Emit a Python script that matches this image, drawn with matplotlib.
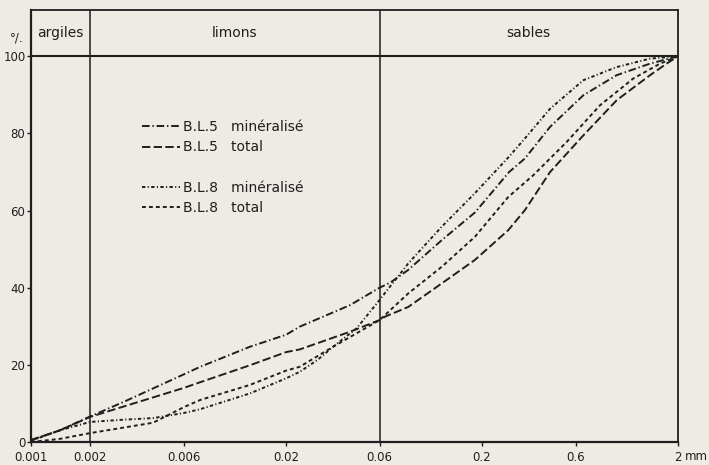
# granulometrie.py
# Cumulative grain-size curves for samples B.L.5 and B.L.8 (mineralised vs total fraction).

import matplotlib
matplotlib.use("Agg")
import matplotlib.pyplot as plt
from matplotlib.lines import Line2D
from matplotlib.ticker import NullLocator

# Grain diameters (mm) and cumulative percentages for each curve.
bl5_min_d = [0.001, 0.0014, 0.002, 0.003, 0.006, 0.0073, 0.0131, 0.02, 0.0235, 0.0425,
             0.06, 0.068, 0.084, 0.1245, 0.184, 0.275, 0.331, 0.445, 0.658, 0.973, 1.44, 2.0]
bl5_min_p = [0.5, 3.0, 6.6, 10.5, 17.5, 19.5, 24.7, 27.8, 29.9, 35.5,
             40.0, 41.3, 44.6, 52.3, 59.5, 70.0, 73.5, 81.7, 89.9, 95.1, 98.1, 100.0]

bl5_tot_d = [0.001, 0.0014, 0.002, 0.006, 0.0073, 0.0131, 0.02, 0.0235, 0.0425, 0.06,
             0.064, 0.084, 0.1245, 0.184, 0.272, 0.331, 0.445, 0.658, 0.973, 1.44, 1.75, 2.0]
bl5_tot_p = [0.5, 3.0, 6.5, 14.0, 15.5, 19.9, 23.3, 24.0, 28.6, 31.6,
             32.5, 35.0, 41.1, 47.2, 54.9, 60.1, 70.0, 79.5, 88.6, 95.1, 98.1, 100.0]

bl8_min_d = [0.001, 0.0014, 0.002, 0.003, 0.0042, 0.006, 0.0073, 0.0131, 0.02, 0.0235,
             0.029, 0.0348, 0.0459, 0.0589, 0.0841, 0.1245, 0.184, 0.275, 0.331, 0.445,
             0.658, 0.973, 1.44, 2.0]
bl8_min_p = [0.3, 3.0, 5.2, 5.8, 6.2, 7.5, 8.5, 12.6, 16.5, 18.2,
             21.3, 24.7, 29.5, 36.3, 46.3, 55.8, 64.5, 74.0, 78.7, 86.4,
             93.8, 97.2, 99.4, 100.0]

bl8_tot_d = [0.001, 0.0014, 0.002, 0.0042, 0.006, 0.0073, 0.0131, 0.02, 0.0235, 0.0348,
             0.06, 0.084, 0.1245, 0.184, 0.272, 0.366, 0.541, 0.8, 1.18, 1.62, 2.0]
bl8_tot_p = [0.0, 0.8, 2.3, 5.0, 9.0, 10.9, 14.8, 18.5, 19.5, 24.7,
             31.6, 38.5, 45.4, 53.2, 63.5, 69.2, 77.8, 87.3, 94.2, 98.1, 100.0]

# Axis ticks and labels.
x_ticks = [0.001, 0.002, 0.006, 0.02, 0.06, 0.2, 0.6, 2.0]
x_labels = ["0.001", "0.002", "0.006", "0.02", "0.06", "0.2", "0.6", "2"]
y_ticks = [0, 20, 40, 60, 80, 100]

# Texture classes and their diameter limits.
classes = ["argiles", "limons", "sables"]
class_limits = [0.001, 0.002, 0.06, 2.0]

# Legend labels.
labels = ["B.L.5   minéralisé", "B.L.5   total", "B.L.8   minéralisé", "B.L.8   total"]

paper = "#eeebe4"
ink = "#1f1f1f"

plt.rcParams["font.family"] = "DejaVu Sans"
plt.rcParams["lines.scale_dashes"] = False

fig = plt.figure(figsize=(7.09, 4.65), dpi=100, facecolor=paper)
ax = fig.add_axes([31 / 709, 23 / 465, 647 / 709, 432 / 465], facecolor=paper)

ax.set_xscale("log")
ax.set_xlim(0.001, 2.0)
ax.set_ylim(0, 112)

# Class header band and vertical class limits.
ax.axhline(100, color=ink, lw=1.5)
for lim in class_limits[1:-1]:
    ax.axvline(lim, color=ink, lw=1.1)
for i, name in enumerate(classes):
    lo, hi = class_limits[i], class_limits[i + 1]
    ax.text((lo * hi) ** 0.5, 106, name, ha="center", va="center", fontsize=10, color=ink)

# The four cumulative curves.
lw = 1.4
ax.plot(bl5_min_d, bl5_min_p, color=ink, lw=lw, dashes=(5.5, 2.0, 1.0, 2.0), label=labels[0])
ax.plot(bl5_tot_d, bl5_tot_p, color=ink, lw=lw, dashes=(6.0, 2.4), label=labels[1])
ax.plot(bl8_min_d, bl8_min_p, color=ink, lw=lw, dashes=(2.4, 1.7, 0.8, 1.7), label=labels[2])
ax.plot(bl8_tot_d, bl8_tot_p, color=ink, lw=lw, dashes=(2.8, 2.2), label=labels[3])

# Legend with a blank row between the two samples.
handles, hl = ax.get_legend_handles_labels()
blank = Line2D([], [], color="none")
ax.legend(handles[:2] + [blank] + handles[2:], hl[:2] + [" "] + hl[2:],
          loc="upper left", bbox_to_anchor=(0.172, 0.745), frameon=False,
          borderpad=0, borderaxespad=0, handlelength=2.7, handletextpad=0.25,
          labelspacing=0.45, fontsize=10, labelcolor=ink)

# Ticks and frame.
ax.set_xticks(x_ticks)
ax.set_xticklabels(x_labels)
ax.xaxis.set_minor_locator(NullLocator())
ax.set_yticks(y_ticks)
ax.tick_params(axis="both", direction="out", length=3, width=1.0, color=ink,
               labelsize=8.5, labelcolor=ink)
ax.tick_params(axis="x", pad=3.5)
ax.tick_params(axis="y", pad=1)
for side in ["left", "bottom"]:
    ax.spines[side].set_linewidth(1.6)
for side in ["top", "right"]:
    ax.spines[side].set_linewidth(1.3)
for s in ax.spines.values():
    s.set_color(ink)

# Unit labels.
fig.text(17 / 709, 1 - 38 / 465, "°/.", ha="center", va="center", fontsize=8.5, color=ink)
fig.text(696 / 709, 1 - 456 / 465, "mm", ha="center", va="center", fontsize=8.5, color=ink)

fig.savefig("out.png", dpi=100, facecolor=paper)
plt.close(fig)
